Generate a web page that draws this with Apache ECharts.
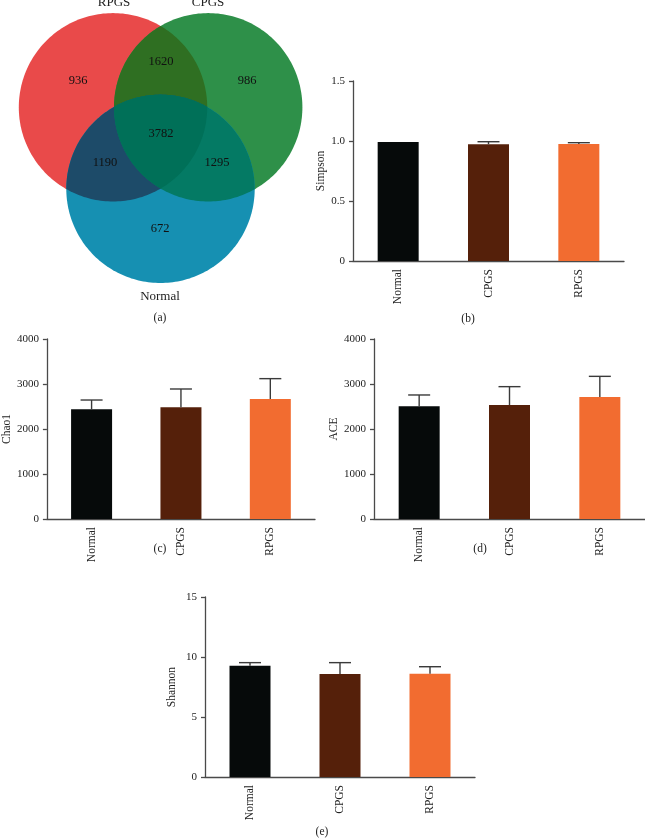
<!DOCTYPE html>
<html>
<head>
<meta charset="utf-8">
<script src="https://cdn.jsdelivr.net/npm/echarts@6/dist/echarts.min.js"></script>
<style>
html,body{margin:0;padding:0;background:#fff;}
#chart{width:645px;height:840px;}
</style>
</head>
<body>
<div id="chart"></div>
<script>
// ---------- DATA ----------
const vennSets = ['RPGS', 'CPGS', 'Normal'];
const vennRegions = [[0], [1], [2], [0, 1], [0, 2], [1, 2], [0, 1, 2]];
const vennCounts = [936, 986, 672, 1620, 1190, 1295, 3782];

const groups = ['Normal', 'CPGS', 'RPGS'];
const simpsonMean = [0.992, 0.973, 0.975];
const simpsonErr = [0, 0.021, 0.011];
const chao1Mean = [2437, 2481, 2667];
const chao1Err = [207, 408, 452];
const aceMean = [2504, 2533, 2711];
const aceErr = [252, 408, 459];
const shannonMean = [9.28, 8.58, 8.61];
const shannonErr = [0.25, 0.95, 0.58];

// ---------- LAYOUT / STYLE ----------
const FONT = '"Liberation Serif", "DejaVu Serif", serif';
const vennCircles = [[113, 107.3], [208.2, 107.3], [160.5, 188.8]];
const vennRadius = 94.2;
const vennLabelPos = [[78, 81], [247, 81], [160, 229], [161, 62], [105, 163], [217, 163], [161, 134]];
const vennNamePos = [[114, 3], [208, 3], [160, 297]];
const vennColors = ['#E94A4A', '#2E9049', '#1690B2', '#2F6F22', '#1D4B69', '#047A64', '#007058'];
const barColors = ['#060A0A', '#55200A', '#F26C30'];

function circlePoly(c, r) {
  const pts = [];
  const N = 240;
  for (let k = 0; k < N; k++) {
    const t = 2 * Math.PI * k / N;
    pts.push([c[0] + r * Math.cos(t), c[1] + r * Math.sin(t)]);
  }
  return pts;
}
function segInt(P, Q, A, B) {
  const x1 = P[0], y1 = P[1], x2 = Q[0], y2 = Q[1];
  const x3 = A[0], y3 = A[1], x4 = B[0], y4 = B[1];
  const d = (x1 - x2) * (y3 - y4) - (y1 - y2) * (x3 - x4);
  const t = ((x1 - x3) * (y3 - y4) - (y1 - y3) * (x3 - x4)) / d;
  return [x1 + t * (x2 - x1), y1 + t * (y2 - y1)];
}
function clipPoly(subject, clip) {
  let output = subject;
  for (let i = 0; i < clip.length; i++) {
    const A = clip[i], B = clip[(i + 1) % clip.length];
    const input = output;
    output = [];
    if (!input.length) break;
    const inside = p => (B[0] - A[0]) * (p[1] - A[1]) - (B[1] - A[1]) * (p[0] - A[0]) >= 0;
    for (let j = 0; j < input.length; j++) {
      const P = input[j], Q = input[(j + 1) % input.length];
      const pin = inside(P), qin = inside(Q);
      if (pin) {
        output.push(P);
        if (!qin) output.push(segInt(P, Q, A, B));
      } else if (qin) {
        output.push(segInt(P, Q, A, B));
      }
    }
  }
  return output;
}

const grids = [
  { left: 0, top: 0, width: 320, height: 320 },
  { left: 353, top: 81, width: 271, height: 180 },
  { left: 45, top: 339, width: 270, height: 180 },
  { left: 374, top: 339, width: 271, height: 180 },
  { left: 205, top: 597, width: 270, height: 180 }
];

const panels = [
  { name: 'Simpson', mean: simpsonMean, err: simpsonErr, max: 1.5, interval: 0.5, gap: 22, fmt: v => v === 0 ? '0' : v.toFixed(1) },
  { name: 'Chao1', mean: chao1Mean, err: chao1Err, max: 4000, interval: 1000, gap: 31, fmt: v => String(v) },
  { name: 'ACE', mean: aceMean, err: aceErr, max: 4000, interval: 1000, gap: 34, fmt: v => String(v) },
  { name: 'Shannon', mean: shannonMean, err: shannonErr, max: 15, interval: 5, gap: 27, fmt: v => String(v) }
];

const axisColor = '#4a4a4a';
const xAxes = [{ gridIndex: 0, type: 'value', min: 0, max: 320, show: false }];
const yAxes = [{ gridIndex: 0, type: 'value', min: 0, max: 320, inverse: true, show: false }];
const series = [];

series.push({
  type: 'custom',
  xAxisIndex: 0, yAxisIndex: 0,
  silent: true,
  data: vennCounts.map((v, i) => [vennLabelPos[i][0], vennLabelPos[i][1], v]),
  renderItem: function (params, api) {
    const idx = params.dataIndex;
    const sets = vennRegions[idx];
    const r = api.size([vennRadius, 0])[0];
    let poly = circlePoly(api.coord(vennCircles[sets[0]]), r);
    for (let k = 1; k < sets.length; k++) {
      poly = clipPoly(poly, circlePoly(api.coord(vennCircles[sets[k]]), r));
    }
    return { type: 'polygon', shape: { points: poly }, style: { fill: vennColors[idx] } };
  },
  z: 1
});
series.push({
  type: 'custom',
  xAxisIndex: 0, yAxisIndex: 0,
  silent: true,
  data: vennCounts.map((v, i) => [vennLabelPos[i][0], vennLabelPos[i][1], v]),
  renderItem: function (params, api) {
    const p = api.coord([api.value(0), api.value(1)]);
    return {
      type: 'text',
      style: { x: p[0], y: p[1], text: String(api.value(2)), fill: '#111', font: '12.5px ' + FONT, align: 'center', verticalAlign: 'middle' }
    };
  },
  z: 5
});
series.push({
  type: 'custom',
  xAxisIndex: 0, yAxisIndex: 0,
  silent: true,
  data: vennSets.map((s, i) => [vennNamePos[i][0], vennNamePos[i][1]]),
  renderItem: function (params, api) {
    const p = api.coord([api.value(0), api.value(1)]);
    return {
      type: 'text',
      style: { x: p[0], y: p[1], text: vennSets[params.dataIndex], fill: '#222', font: '13px ' + FONT, align: 'center', verticalAlign: 'middle' }
    };
  },
  z: 5
});

panels.forEach((pn, k) => {
  const gi = k + 1;
  xAxes.push({
    gridIndex: gi, type: 'category', data: groups,
    axisLine: { lineStyle: { color: axisColor, width: 1.3 } },
    axisTick: { alignWithLabel: true, length: 4, lineStyle: { color: axisColor, width: 1.3 } },
    axisLabel: { rotate: 90, margin: 8, color: '#222', fontFamily: FONT, fontSize: 11.5 }
  });
  yAxes.push({
    gridIndex: gi, type: 'value', min: 0, max: pn.max, interval: pn.interval,
    name: pn.name, nameLocation: 'middle', nameGap: pn.gap,
    nameTextStyle: { color: '#222', fontFamily: FONT, fontSize: 11.5 },
    axisLine: { show: true, lineStyle: { color: axisColor, width: 1.3 } },
    axisTick: { show: true, length: 4, lineStyle: { color: axisColor, width: 1.3 } },
    splitLine: { show: false },
    axisLabel: { margin: 8, color: '#222', fontFamily: FONT, fontSize: 11, formatter: pn.fmt }
  });
  series.push({
    type: 'bar', xAxisIndex: gi, yAxisIndex: gi, barWidth: 41, silent: true,
    data: pn.mean.map((v, i) => ({ value: v, itemStyle: { color: barColors[i] } })),
    z: 2
  });
  series.push({
    type: 'custom', xAxisIndex: gi, yAxisIndex: gi, silent: true,
    data: pn.mean.map((v, i) => [i, v, v + pn.err[i]]),
    encode: { x: 0, y: [1, 2] },
    renderItem: function (params, api) {
      const b = api.coord([api.value(0), api.value(1)]);
      const t = api.coord([api.value(0), api.value(2)]);
      if (Math.abs(b[1] - t[1]) < 0.5) return null;
      const st = { stroke: '#3a3a3a', lineWidth: 1.4 };
      return {
        type: 'group',
        children: [
          { type: 'line', shape: { x1: b[0], y1: b[1], x2: t[0], y2: t[1] }, style: st },
          { type: 'line', shape: { x1: t[0] - 11, y1: t[1], x2: t[0] + 11, y2: t[1] }, style: st }
        ]
      };
    },
    z: 3
  });
});

const panelTags = [['(a)', 160, 318], ['(b)', 468, 319], ['(c)', 160, 549], ['(d)', 480, 549], ['(e)', 322, 832]];

const chart = echarts.init(document.getElementById('chart'), null, { renderer: 'canvas' });
chart.setOption({
  backgroundColor: '#fff',
  animation: false,
  grid: grids,
  xAxis: xAxes,
  yAxis: yAxes,
  series: series,
  graphic: panelTags.map(t => ({
    type: 'text', x: t[1], y: t[2],
    style: { text: t[0], fill: '#222', font: '11.5px ' + FONT, align: 'center', verticalAlign: 'middle' }
  }))
});
</script>
</body>
</html>
